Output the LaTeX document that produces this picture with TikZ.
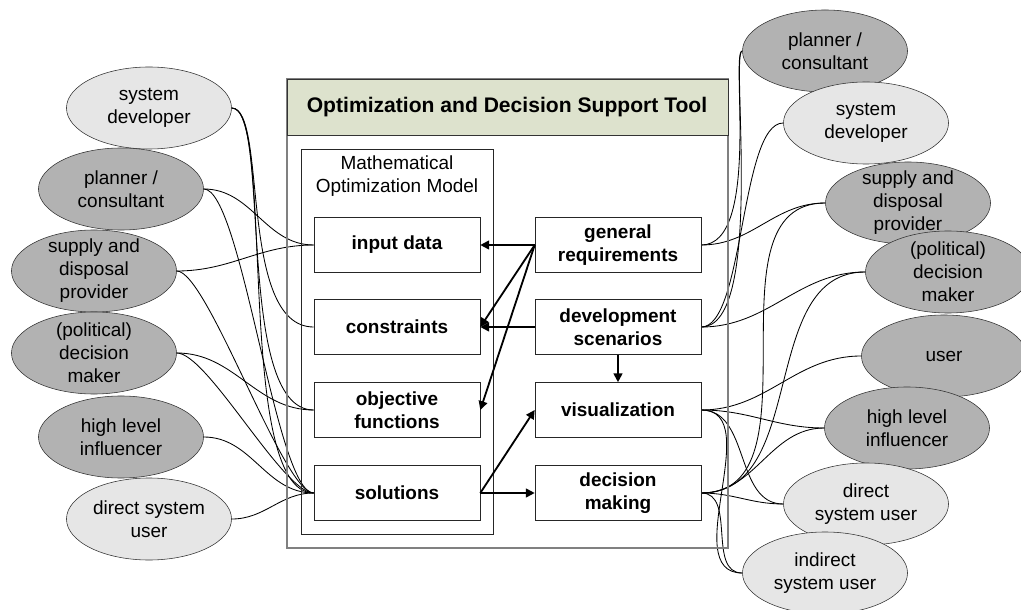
\documentclass[tikz,border=0pt]{standalone}
\usepackage{fontspec}
\setmainfont{Liberation Sans}
\usetikzlibrary{shapes.geometric,arrows.meta,backgrounds}
\definecolor{darkactor}{RGB}{178,178,178}
\definecolor{lightactor}{RGB}{230,230,230}
\definecolor{toolhead}{RGB}{221,226,205}
\definecolor{toolframe}{RGB}{128,128,128}
\tikzset{
  actor/.style={ellipse,draw=black!80,minimum width=4.125cm,minimum height=2.05cm,inner sep=-5pt,align=center,font=\fontsize{13.5}{16.3}\selectfont},
  part/.style={rectangle,draw=black!85,fill=white,minimum width=4.15cm,minimum height=1.375cm,align=center,font=\fontsize{13.5}{16.3}\selectfont\bfseries},
  link/.style={line width=0.6pt},
  flow/.style={line width=1.3pt,-{Triangle[length=2.2mm,width=2.2mm]}},
}
\begin{document}
\begin{tikzpicture}[x=0.025cm,y=-0.025cm]
    \useasboundingbox (0,0) rectangle (1021,610);
    %TOOL:
    \draw[toolframe,line width=1.2pt] (287,79) rectangle (728,548);
    \draw[draw=black!80,fill=toolhead] (287,79) rectangle (728,135);
    \node[font=\fontsize{15}{18}\selectfont\bfseries] (tool) at (507,107) {Optimization and Decision Support Tool};
    %model:
    \draw[black!85] (301,149) rectangle (493,534);
    \node[align=center,font=\fontsize{13.5}{16.3}\selectfont] (model) at (397,176) {Mathematical\\Optimization Model};
    \node[part] (input)  at (397,245) {input data};
    \node[part] (constr) at (397,327) {constraints};
    \node[part] (objfun) at (397,410) {objective\\functions};
    \node[part] (solut)  at (397,493) {solutions};
    %tool parts:
    \node[part] (genreq)  at (618,245) {general\\requirements};
    \node[part] (devscen) at (618,327) {development\\scenarios};
    \node[part] (visual)  at (618,410) {visualization};
    \node[part] (decmak)  at (618,493) {decision\\making};
    %arrows ----------------------------
    \draw[flow] (genreq.west) -- (input.east);
    \draw[flow] (genreq.west) -- (constr.east);
    \draw[flow] (genreq.west) -- (objfun.east);
    \draw[flow] (devscen.west) -- (constr.east);
    \draw[flow] (devscen.south) -- (visual.north);
    \draw[flow] (solut.east) -- (visual.west);
    \draw[flow] (solut.east) -- (decmak.west);
    %STAKEHOLDERS LEFT:
    \node[actor,fill=lightactor] (sysdevL)     at (149,108) {system\\developer};
    \node[actor,fill=darkactor]  (plannerL)    at (121,189) {planner /\\consultant};
    \node[actor,fill=darkactor]  (supplyL)     at (94,271)  {supply and\\disposal\\provider};
    \node[actor,fill=darkactor]  (decisionL)   at (94,353)  {(political)\\decision\\maker};
    \node[actor,fill=darkactor]  (influencerL) at (121,437) {high level\\influencer};
    \node[actor,fill=lightactor] (directL)     at (149,519) {direct system\\user};
    %STAKEHOLDERS RIGHT:
    \node[actor,fill=darkactor]  (plannerR)    at (825,51)  {planner /\\consultant};
    \node[actor,fill=lightactor] (sysdevR)     at (866,123) {system\\developer};
    \node[actor,fill=darkactor]  (supplyR)     at (908,203) {supply and\\disposal\\provider};
    \node[actor,fill=darkactor]  (decisionR)   at (948,272) {(political)\\decision\\maker};
    \node[actor,fill=darkactor]  (userR)       at (944,356) {user};
    \node[actor,fill=darkactor]  (influencerR) at (907,428) {high level\\influencer};
    \node[actor,fill=lightactor] (directR)     at (866,504) {direct\\system user};
    \node[actor,fill=lightactor] (indirectR)   at (825,573) {indirect\\system user};
    %links -----------------------------
    \begin{pgfonlayer}{background}
    \draw[link] (sysdevL.east) to[out=0,in=180,out distance=0.9cm,in distance=1.9cm] (constr.west);
    \draw[link] (sysdevL.east) to[out=0,in=180,out distance=1.0cm,in distance=2.0cm] (objfun.west);
    \draw[link] (sysdevL.east) to[out=0,in=180,out distance=1.1cm,in distance=2.0cm] (solut.west);
    \draw[link] (plannerL.east) to[out=0,in=180] (input.west);
    \draw[link] (plannerL.east) to[out=0,in=180,looseness=0.3] (solut.west);
    \draw[link] (supplyL.east) to[out=0,in=180] (input.west);
    \draw[link] (supplyL.east) to[out=0,in=180,looseness=0.3] (solut.west);
    \draw[link] (decisionL.east) to[out=0,in=180] (objfun.west);
    \draw[link] (decisionL.east) to[out=0,in=180,looseness=0.4] (solut.west);
    \draw[link] (influencerL.east) to[out=0,in=180] (solut.west);
    \draw[link] (directL.east) to[out=0,in=180] (solut.west);
    %right side
    \draw[link] (genreq.east) to[out=0,in=180,out distance=1.5cm,in distance=0.3cm] (plannerR.west);
    \draw[link] (genreq.east) to[out=0,in=180] (supplyR.west);
    \draw[link] (devscen.east) to[out=0,in=180,out distance=1.6cm,in distance=0.3cm] (plannerR.west);
    \draw[link] (devscen.east) to[out=0,in=180,looseness=0.5] (sysdevR.west);
    \draw[link] (devscen.east) to[out=0,in=180] (decisionR.west);
    \draw[link] (visual.east) to[out=0,in=180] (userR.west);
    \draw[link] (visual.east) to[out=0,in=180] (influencerR.west);
    \draw[link] (visual.east) to[out=0,in=180] (directR.west);
    \draw[link] (visual.east) to[out=0,in=180] (indirectR.west);
    \draw[link] (decmak.east) to[out=0,in=180] (supplyR.west);
    \draw[link] (decmak.east) to[out=0,in=180] (decisionR.west);
    \draw[link] (decmak.east) to[out=0,in=180] (influencerR.west);
    \draw[link] (decmak.east) to[out=0,in=180] (directR.west);
    \draw[link] (decmak.east) to[out=0,in=180] (indirectR.west);
    \end{pgfonlayer}
\end{tikzpicture}
\end{document}
